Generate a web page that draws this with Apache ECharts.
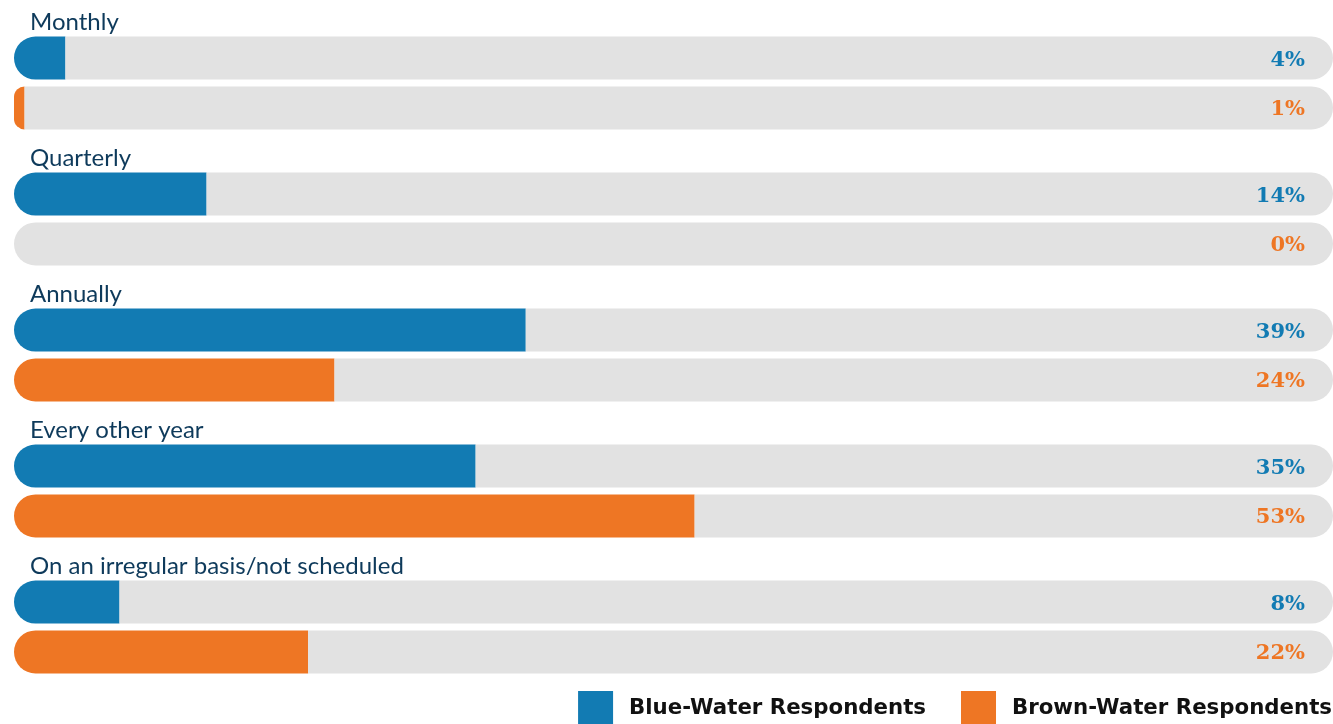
<!DOCTYPE html>
<html>
<head>
<meta charset="utf-8">
<script src="https://cdn.jsdelivr.net/npm/echarts@6/dist/echarts.min.js"></script>
<style>
  html, body { margin: 0; padding: 0; background: #fff; }
  #chart { width: 1333px; height: 724px; }
</style>
</head>
<body>
<div id="chart"></div>
<script>
// 分类（自上而下）
const categories = ['Monthly', 'Quarterly', 'Annually', 'Every other year', 'On an irregular basis/not scheduled'];

// 条形长度（从图中量得）
const blueValues = [3.9, 14.6, 38.8, 35.0, 8.0];
const brownValues = [0.8, 0, 24.3, 51.6, 22.3];

// 右侧显示的百分比
const blueLabels = ['4%', '14%', '39%', '35%', '8%'];
const brownLabels = ['1%', '0%', '24%', '53%', '22%'];

const seriesNames = ['Blue-Water Respondents', 'Brown-Water Respondents'];
const fullScale = 100;

const colors = {
    blue: '#127bb3',
    brown: '#ee7624',
    track: '#e2e2e2',
    category: '#0e3a5b'
};

const R = 21.5;

function restData(values) {
    return values.map(v => ({
        value: fullScale - v,
        itemStyle: { borderRadius: v > 0 ? [0, R, R, 0] : R }
    }));
}

function valueLabel(labels, color) {
    return {
        show: true,
        position: 'insideRight',
        distance: 28,
        offset: [0, 2],
        formatter: p => labels[p.dataIndex],
        color: color,
        fontFamily: 'DejaVu Serif',
        fontWeight: 'bold',
        fontSize: 21
    };
}

const chart = echarts.init(document.getElementById('chart'));

const option = {
    animation: false,
    legend: {
        data: seriesNames,
        right: 1,
        top: 691,
        padding: 0,
        itemWidth: 35,
        itemHeight: 34,
        itemGap: 35,
        icon: 'rect',
        textStyle: {
            fontFamily: 'DejaVu Sans',
            fontWeight: 'bold',
            fontSize: 21.3,
            color: '#111',
            padding: [0, 0, 0, 11]
        }
    },
    grid: {
        left: 14,
        right: 0,
        top: 15,
        height: 680
    },
    xAxis: {
        type: 'value',
        min: 0,
        max: fullScale,
        show: false
    },
    yAxis: {
        type: 'category',
        inverse: true,
        data: categories,
        axisLine: { show: false },
        axisTick: { show: false },
        splitLine: { show: false },
        axisLabel: {
            inside: true,
            margin: 16,
            verticalAlign: 'middle',
            formatter: v => '{t|' + v + '}',
            rich: {
                t: {
                    padding: [0, 0, 122, 0],
                    color: colors.category,
                    fontFamily: 'Lato',
                    fontSize: 24
                }
            }
        },
        z: 10
    },
    series: [
        {
            name: seriesNames[0],
            type: 'bar',
            stack: 'blue',
            barWidth: 43,
            barGap: '16%',
            itemStyle: { color: colors.blue, borderRadius: [R, 0, 0, R] },
            data: blueValues
        },
        {
            name: 'blueRest',
            type: 'bar',
            stack: 'blue',
            barWidth: 43,
            barGap: '16%',
            itemStyle: { color: colors.track },
            label: valueLabel(blueLabels, colors.blue),
            data: restData(blueValues)
        },
        {
            name: seriesNames[1],
            type: 'bar',
            stack: 'brown',
            barWidth: 43,
            barGap: '16%',
            itemStyle: { color: colors.brown, borderRadius: [R, 0, 0, R] },
            data: brownValues
        },
        {
            name: 'brownRest',
            type: 'bar',
            stack: 'brown',
            barWidth: 43,
            barGap: '16%',
            itemStyle: { color: colors.track },
            label: valueLabel(brownLabels, colors.brown),
            data: restData(brownValues)
        }
    ]
};

chart.setOption(option);
</script>
</body>
</html>
